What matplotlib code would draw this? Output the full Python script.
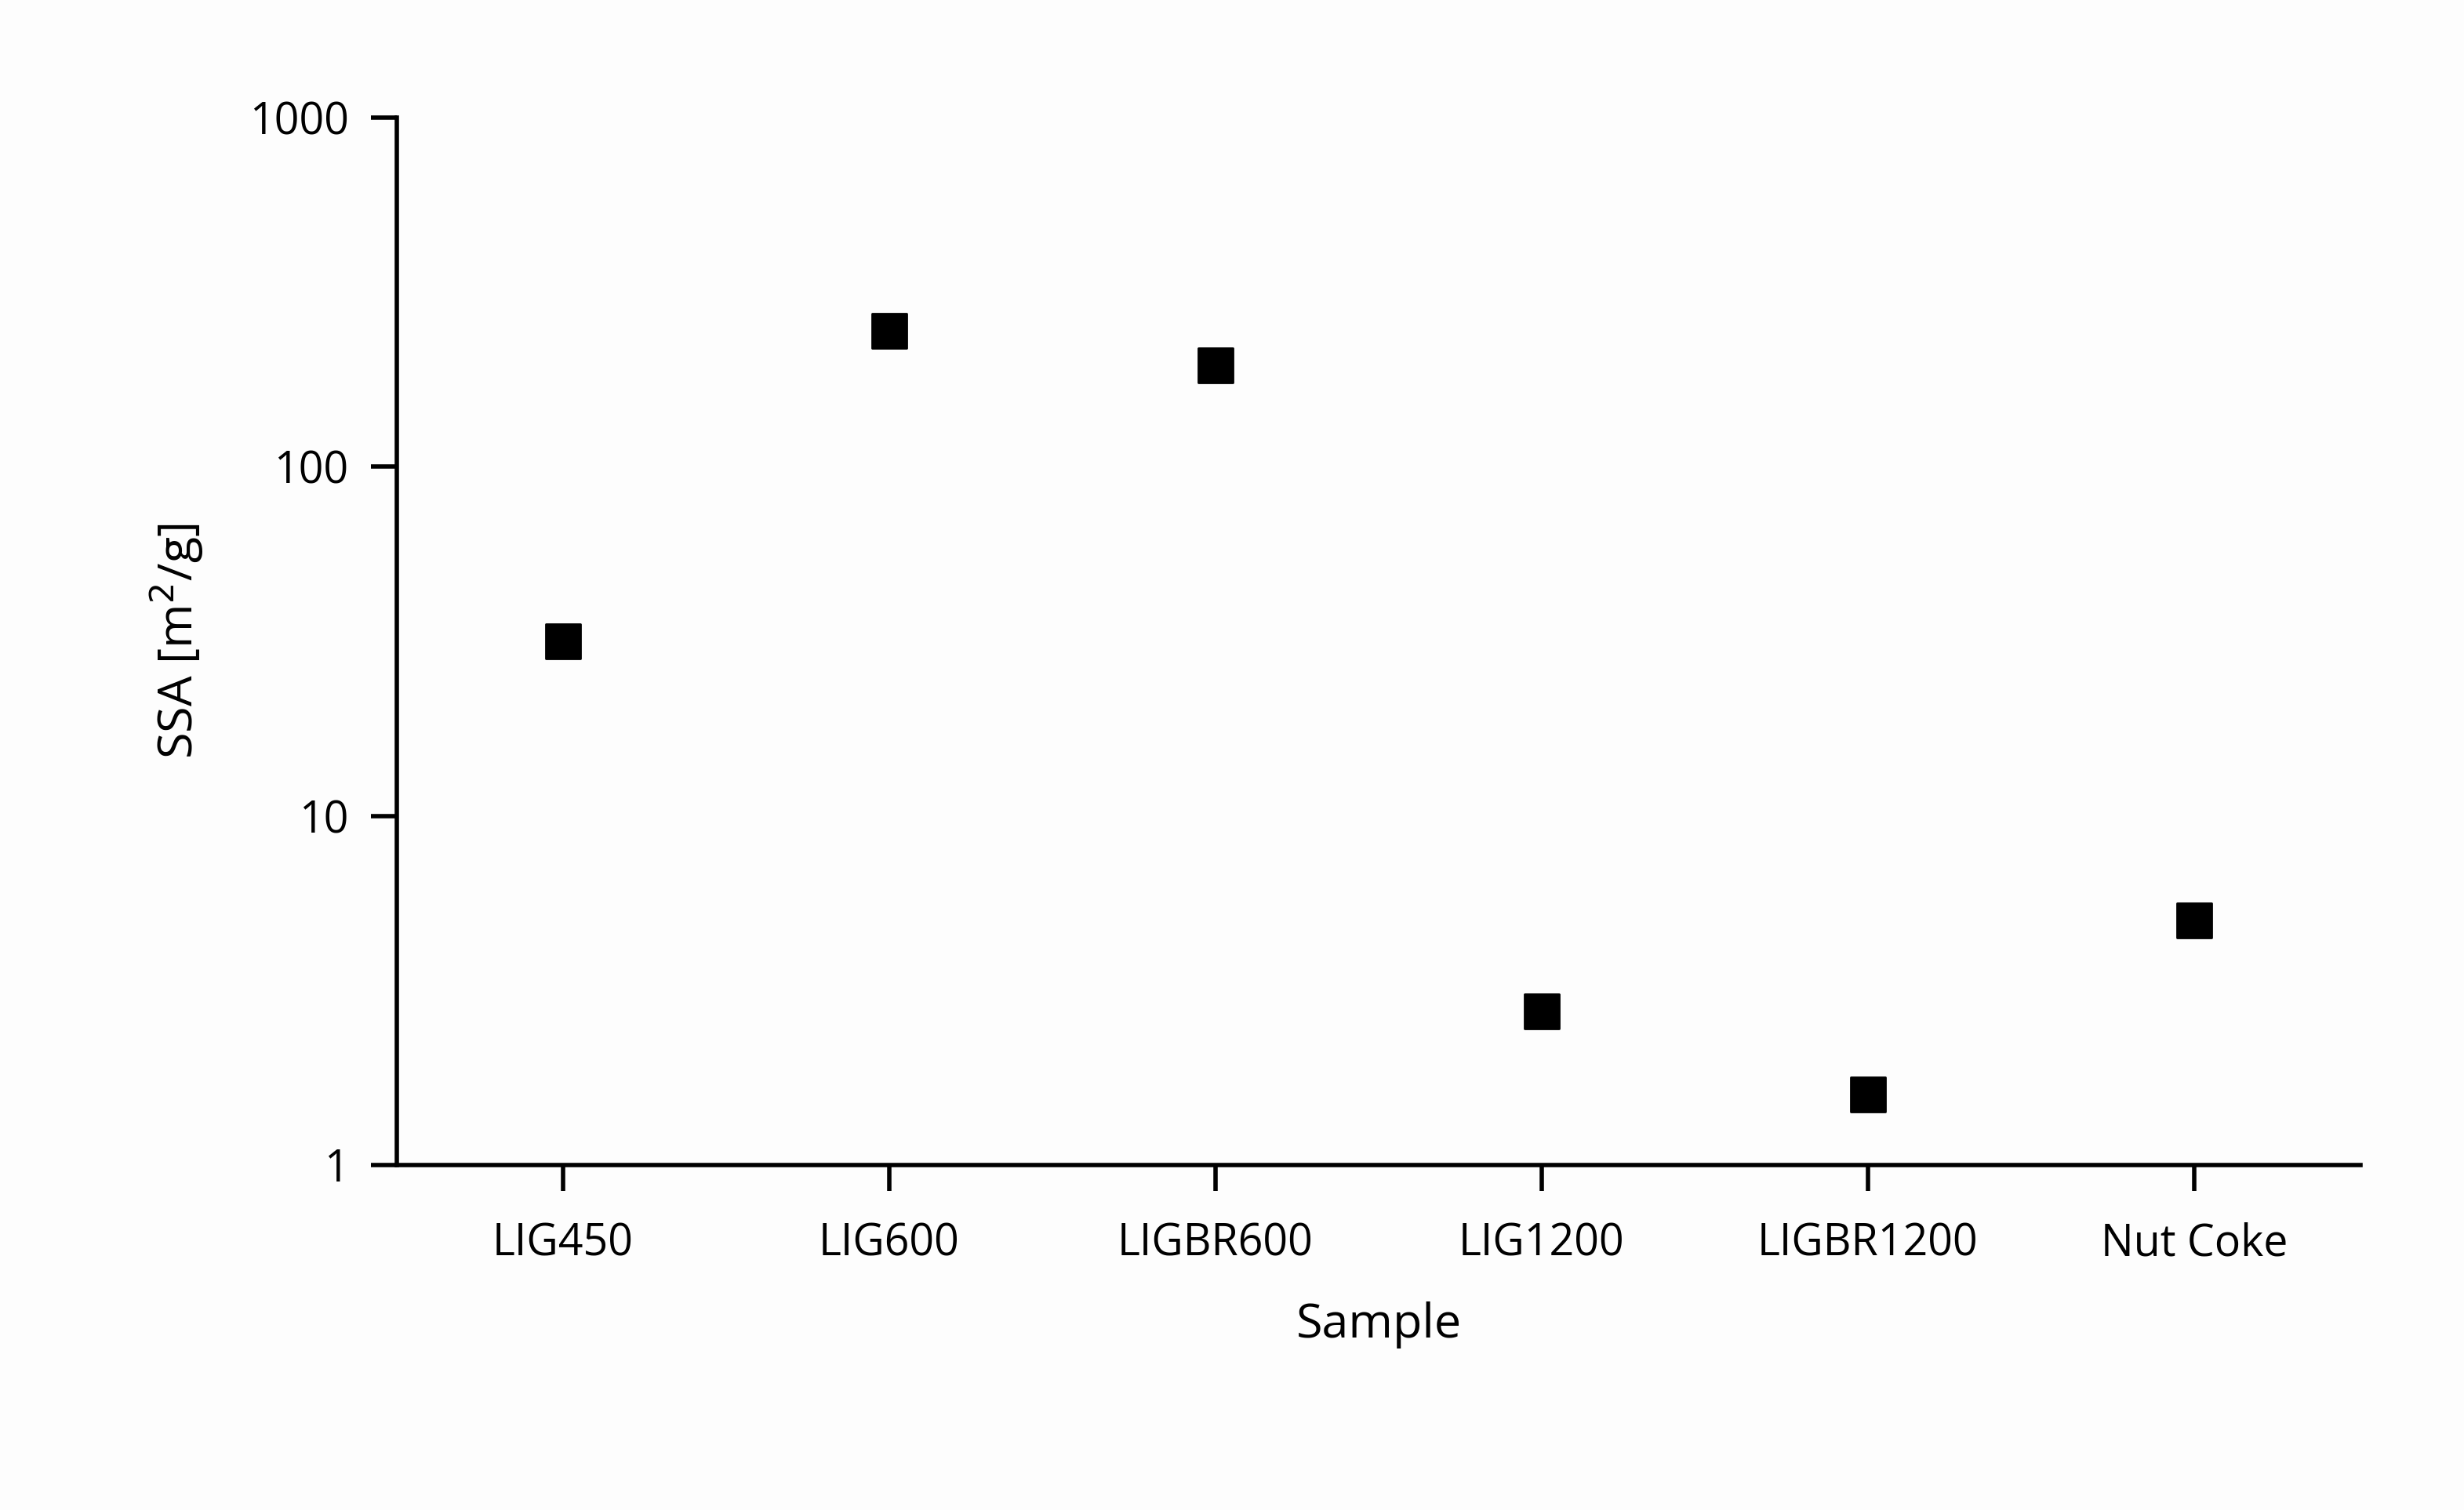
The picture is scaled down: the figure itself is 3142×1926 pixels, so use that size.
import matplotlib
matplotlib.use("Agg")
import matplotlib.pyplot as plt
from matplotlib.ticker import FixedLocator, NullLocator

samples = ["LIG450", "LIG600", "LIGBR600", "LIG1200", "LIGBR1200", "Nut Coke"]
ssa = [31.6, 245, 195, 2.75, 1.59, 5.02]

plt.rcParams["font.family"] = ["Open Sans", "DejaVu Sans"]

fig = plt.figure(figsize=(15.71, 9.63), dpi=200, facecolor="#fdfdfd")
ax = fig.add_axes([0.161, 0.2285, 0.797, 0.6935], facecolor="#fdfdfd")

x = list(range(len(samples)))
ax.scatter(x, ssa, marker="s", s=260, color="black", zorder=3)

ax.set_yscale("log")
ax.set_ylim(1, 1000)
ax.set_xlim(-0.51, 5.51)
ax.yaxis.set_major_locator(FixedLocator([1, 10, 100, 1000]))
ax.yaxis.set_minor_locator(NullLocator())
ax.set_yticklabels(["1", "10", "100", "1000"])
ax.set_xticks(x)
ax.set_xticklabels(samples)

for s in ["top"]:
    ax.spines[s].set_visible(False)
ax.spines["right"].set_visible(False)
ax.spines["left"].set_linewidth(2)
ax.spines["bottom"].set_linewidth(2)
ax.tick_params(axis="both", length=12, width=2, labelsize=20, color="black")
ax.tick_params(axis="x", pad=14)
ax.tick_params(axis="y", pad=10)

ax.set_xlabel("Sample", fontsize=22, labelpad=16)
ax.set_ylabel("SSA [m$^2$/g]", fontsize=22, labelpad=20)

fig.savefig("out.png", dpi=200, facecolor=fig.get_facecolor())
